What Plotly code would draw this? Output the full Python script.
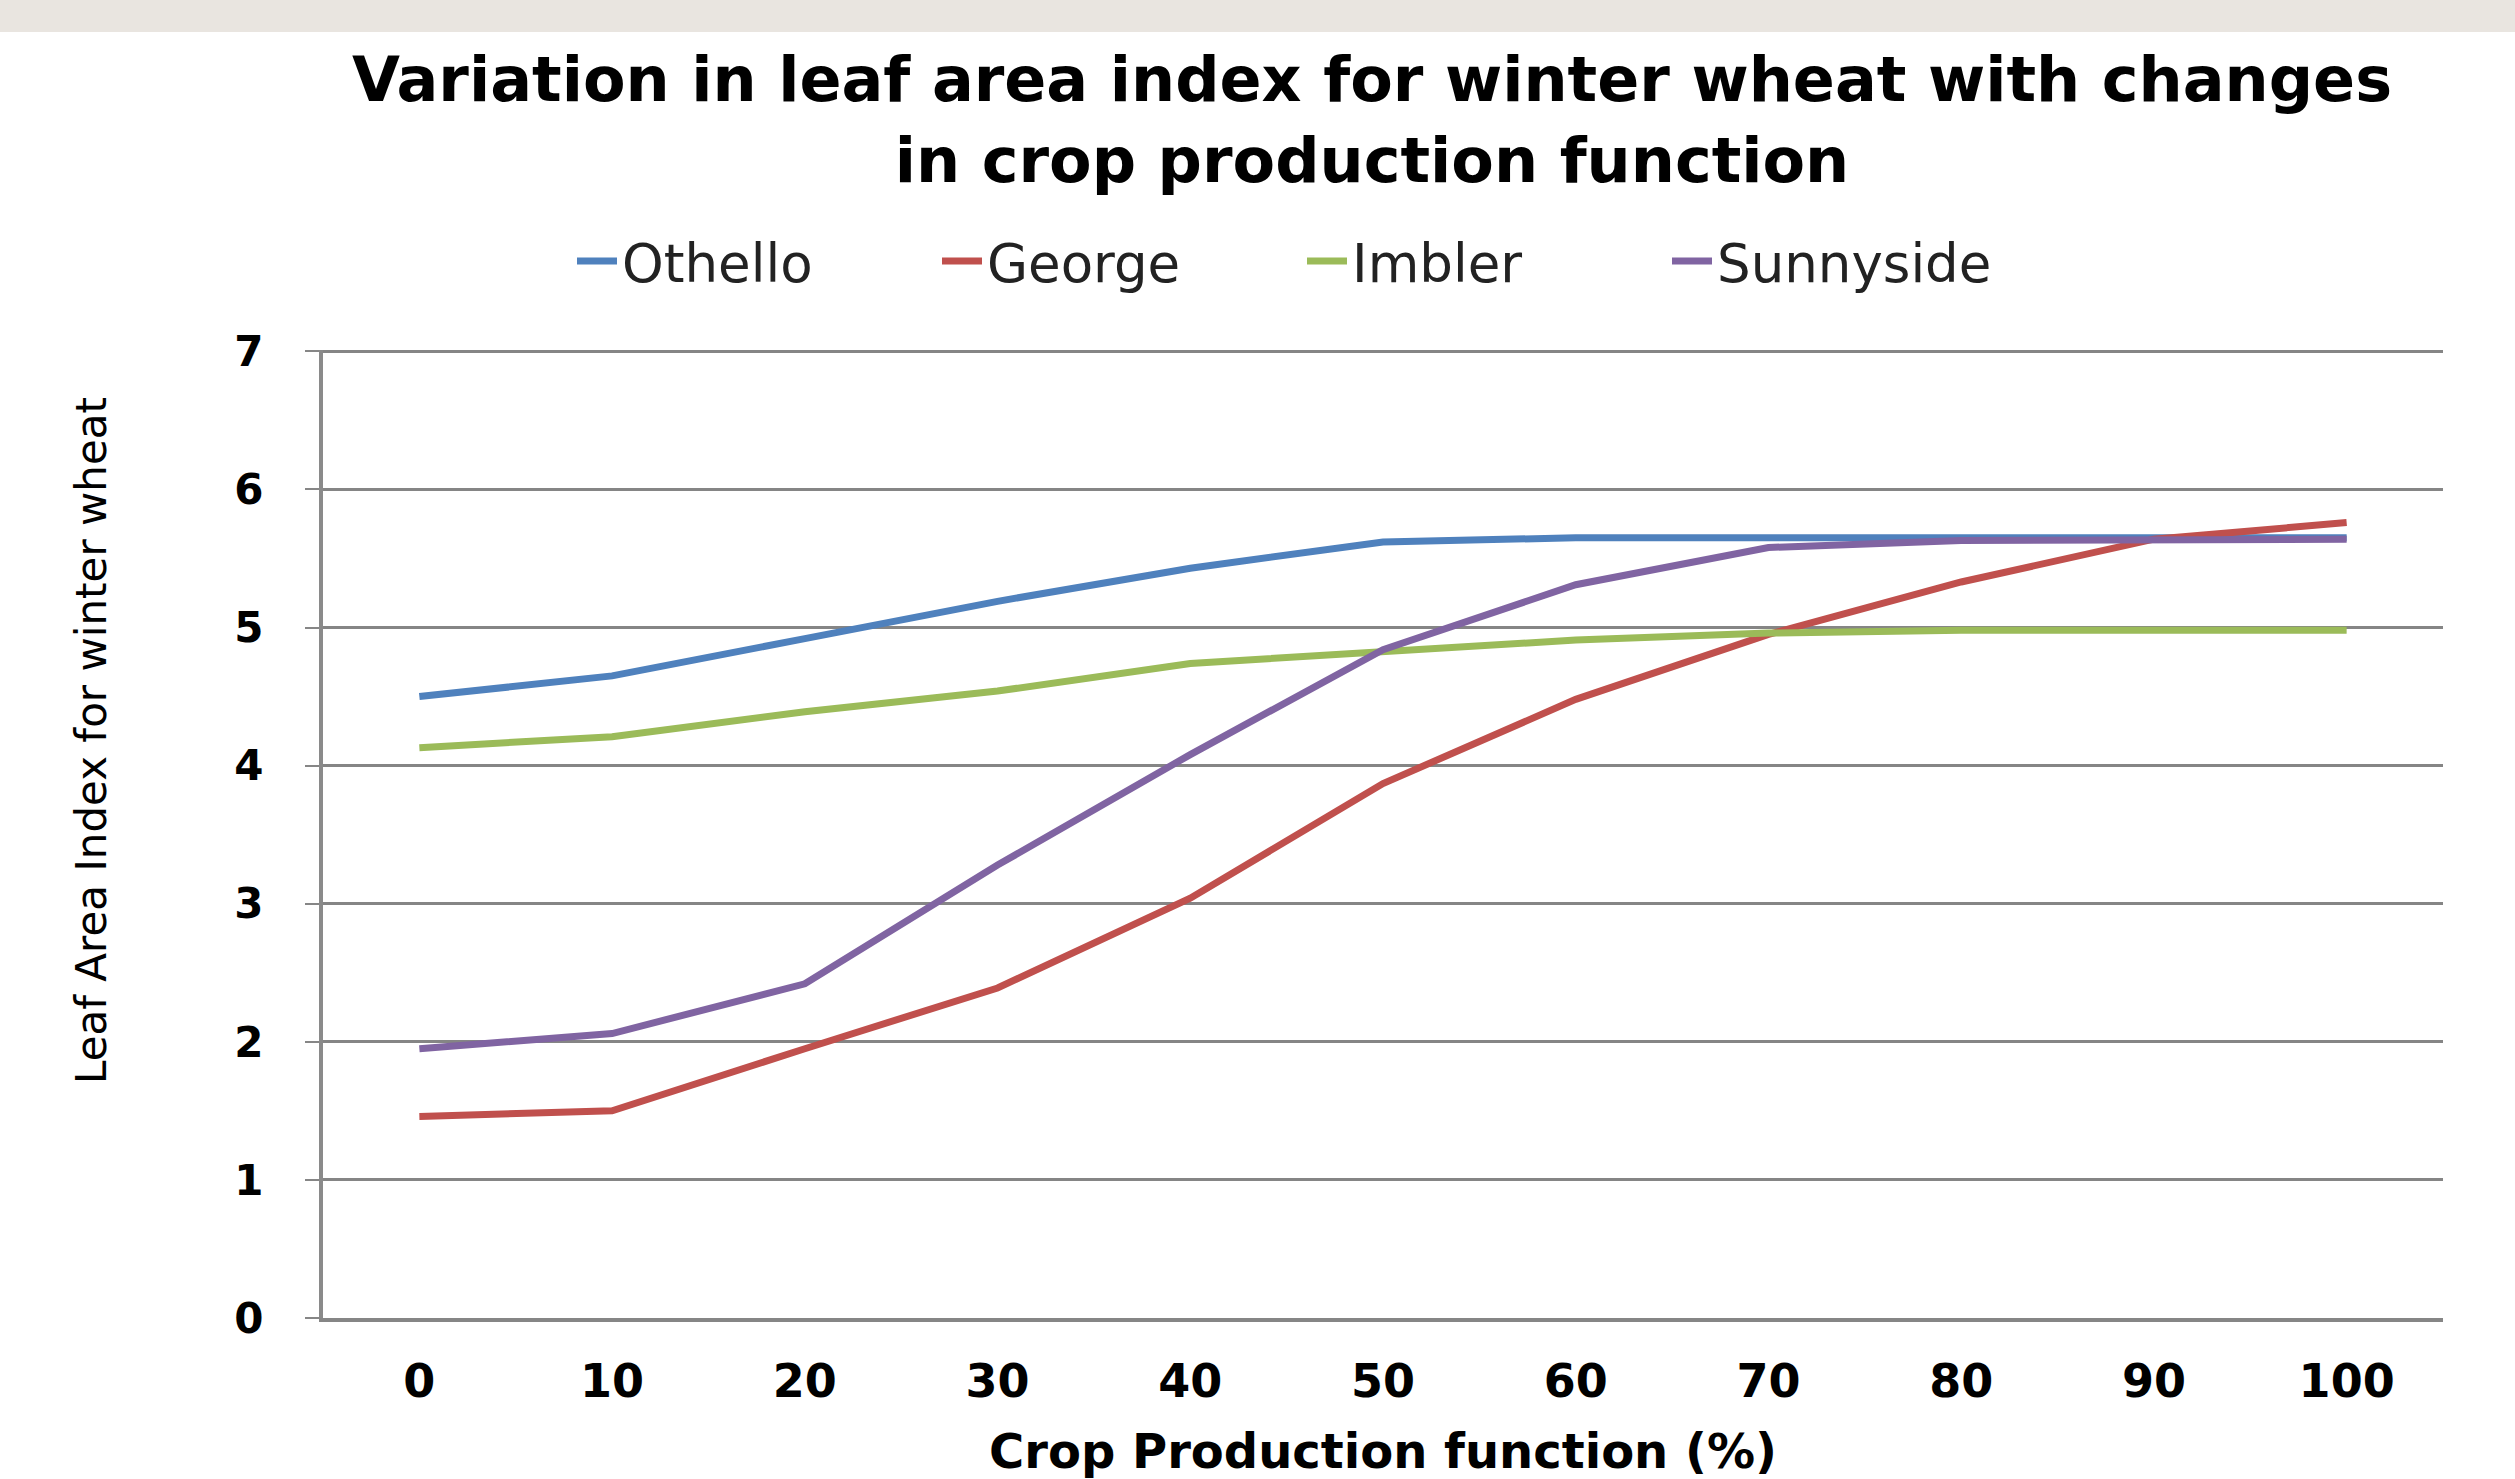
import plotly.graph_objects as go

crop_production = [0, 10, 20, 30, 40, 50, 60, 70, 80, 90, 100]
othello = [4.50, 4.65, 4.92, 5.19, 5.43, 5.62, 5.65, 5.65, 5.65, 5.65, 5.65]
george = [1.46, 1.50, 1.95, 2.39, 3.04, 3.87, 4.48, 4.95, 5.33, 5.64, 5.76]
imbler = [4.13, 4.21, 4.39, 4.54, 4.74, 4.82, 4.91, 4.96, 4.98, 4.98, 4.98]
sunnyside = [1.95, 2.06, 2.42, 3.28, 4.08, 4.84, 5.31, 5.58, 5.63, 5.64, 5.64]

series_names = ["Othello", "George", "Imbler", "Sunnyside"]
series_values = [othello, george, imbler, sunnyside]
series_colors = ["#4F81BD", "#C0504D", "#9BBB59", "#8064A2"]

y_ticks = [0, 1, 2, 3, 4, 5, 6, 7]

fig = go.Figure()
for name, vals, col in zip(series_names, series_values, series_colors):
    fig.add_trace(go.Scatter(x=crop_production, y=vals, mode="lines", name=name,
                             line=dict(color=col, width=7)))

W, H = 2515, 1479
L, R, T, B = 323, 72, 350, 161
plot_w = W - L - R
plot_h = H - T - B

fig.update_layout(
    width=W, height=H,
    margin=dict(l=L, r=R, t=T, b=B, autoexpand=False),
    paper_bgcolor="white", plot_bgcolor="white",
    font=dict(family="DejaVu Sans", color="black"),
    title=dict(text="Variation in leaf area index for winter wheat with changes<br>in crop production function",
               x=1372 / W, xanchor="center", xref="container",
               y=1 - 101 / H, yanchor="top", yref="container",
               font=dict(family="DejaVu Sans", size=62, weight="bold", color="black")),
    legend=dict(orientation="h", x=(1302 - L) / plot_w, xanchor="center",
                y=(H - B - 261) / plot_h, yanchor="middle",
                font=dict(family="DejaVu Sans", size=53, color="#222"),
                itemwidth=40, entrywidth=310, bgcolor="rgba(0,0,0,0)"),
    showlegend=True,
)

fig.update_xaxes(
    range=[-5, 105], tickvals=crop_production, ticktext=[str(v) for v in crop_production],
    showgrid=False, zeroline=False, showline=True, linecolor="#868686", linewidth=4,
    ticks="outside", ticklen=20, tickcolor="rgba(0,0,0,0)",
    tickfont=dict(family="DejaVu Sans", size=46, weight="bold", color="black"),
    title=dict(text="Crop Production function (%)", standoff=45,
               font=dict(family="DejaVu Sans", size=48, weight="bold", color="black")),
)
fig.update_yaxes(
    range=[0, 7.01], tickvals=y_ticks, showgrid=True, gridcolor="#858585", gridwidth=2.5,
    zeroline=False, showline=True, linecolor="#8a8a8a", linewidth=4,
    ticks="outside", ticklen=14, tickcolor="#868686", tickwidth=2,
    ticklabelstandoff=33,
    tickfont=dict(family="DejaVu Sans", size=42, weight="bold", color="black"),
)

fig.add_annotation(text="Leaf Area Index for winter wheat", textangle=-90,
                   xref="paper", yref="paper", x=(91 - L) / plot_w, y=(H - B - 741) / plot_h,
                   xanchor="center", yanchor="middle", showarrow=False,
                   font=dict(family="DejaVu Sans", size=42, color="black"))

# top textured band of the slide
fig.add_shape(type="rect", xref="paper", yref="paper",
              x0=-0.3, x1=1.2,
              y0=(H - B - 32) / plot_h, y1=(H - B) / plot_h + 0.1,
              fillcolor="#e9e5e0", line=dict(width=0), layer="below")

fig.write_html("out.html", config={"displayModeBar": False},
               post_script="document.body.style.margin='0';")
